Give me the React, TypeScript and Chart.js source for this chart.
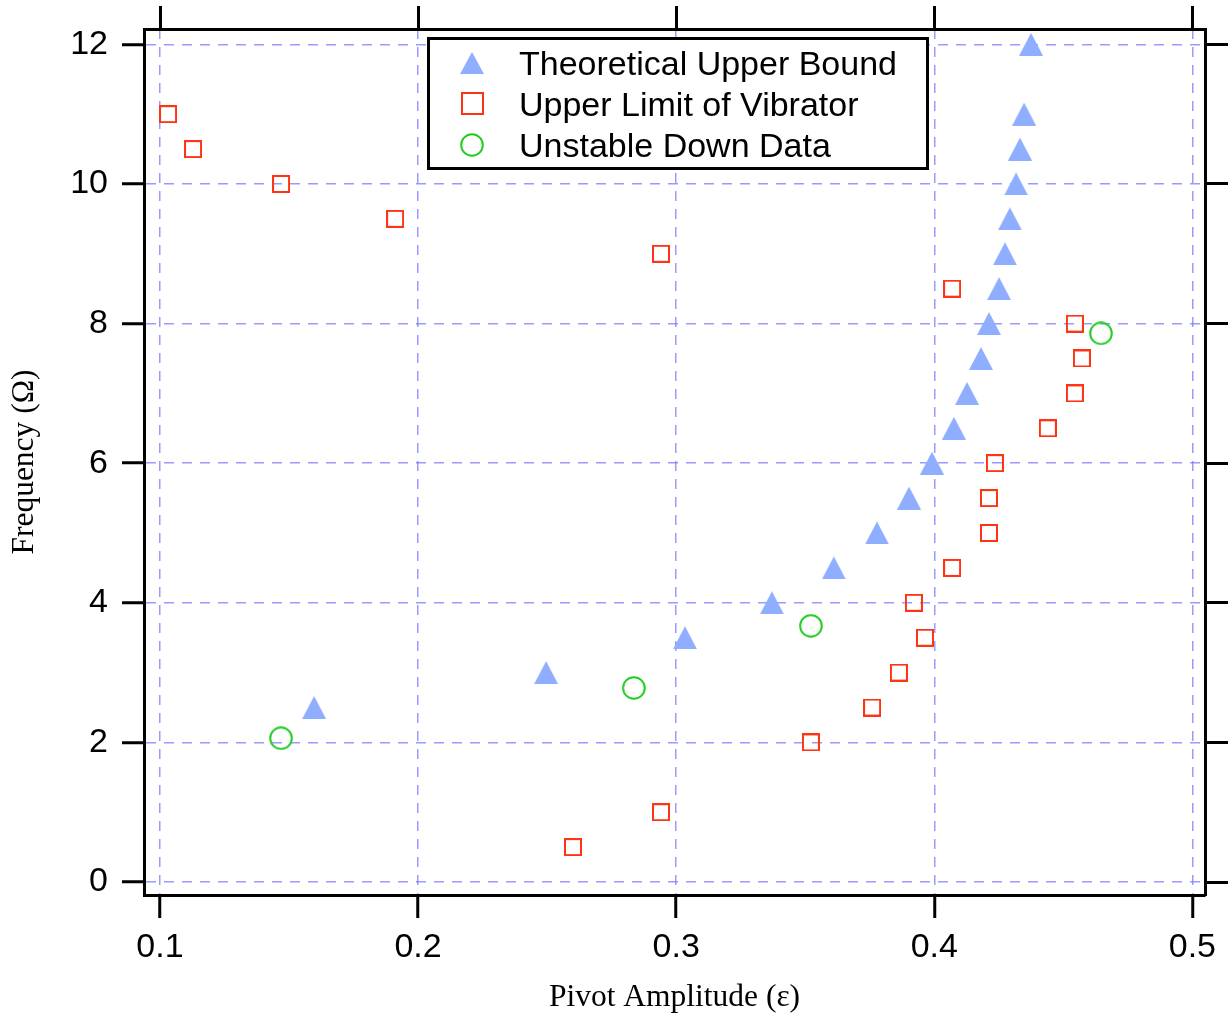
import React, { useEffect, useRef } from 'react';
import { Chart, registerables } from 'chart.js';

Chart.register(...registerables);

// ---- data ----
const seriesNames = ['Theoretical Upper Bound', 'Upper Limit of Vibrator', 'Unstable Down Data'];

const theoX = [0.1597, 0.2496, 0.3034, 0.3371, 0.3611, 0.3778, 0.3902, 0.3991, 0.4076, 0.4127, 0.4181, 0.4212, 0.4251, 0.4274, 0.4293, 0.4317, 0.4332, 0.4348, 0.4375];
const theoY = [2.5, 3.0, 3.5, 4.0, 4.5, 5.0, 5.5, 6.0, 6.5, 7.0, 7.5, 8.0, 8.5, 9.0, 9.5, 10.0, 10.5, 11.0, 12.0];

const vibX = [0.1031, 0.1128, 0.1469, 0.1911, 0.2941, 0.4069, 0.4545, 0.4572, 0.4545, 0.4440, 0.4235, 0.4212, 0.4212, 0.4069, 0.3921, 0.3964, 0.3863, 0.3759, 0.3522, 0.2941, 0.2600];
const vibY = [11.0, 10.5, 10.0, 9.5, 9.0, 8.5, 8.0, 7.5, 7.0, 6.5, 6.0, 5.5, 5.0, 4.5, 4.0, 3.5, 3.0, 2.5, 2.0, 1.0, 0.5];

const downX = [0.1469, 0.2836, 0.3522, 0.4646];
const downY = [2.06, 2.78, 3.67, 7.86];

const xTicks = [0.1, 0.2, 0.3, 0.4, 0.5];
const yTicks = [0, 2, 4, 6, 8, 10, 12];
const xRange = [0.0938, 0.5049];
const yRange = [-0.186, 12.22];

const xTitle = 'Pivot Amplitude (ε)';
const yTitle = 'Frequency (Ω)';

// ---- styles ----
const TRI_COLOR = 'rgb(143,174,255)';
const SQ_COLOR = 'rgb(255,52,20)';
const CIRC_COLOR = 'rgb(34,204,34)';
const GRID_COLOR = 'rgba(120,120,255,0.75)';
const TICK_FONT = { family: '"Liberation Sans", Arial, sans-serif', size: 34 };
const TITLE_FONT = { family: '"Liberation Serif", "Times New Roman", serif', size: 31.5 };

function triangleImg(w: number, h: number) {
  const c = document.createElement('canvas');
  c.width = w; c.height = h;
  const g = c.getContext('2d')!;
  g.fillStyle = TRI_COLOR;
  g.beginPath();
  g.moveTo(w / 2, 0);
  g.lineTo(w, h);
  g.lineTo(0, h);
  g.closePath();
  g.fill();
  return c;
}
function squareImg(s: number) {
  const c = document.createElement('canvas');
  c.width = s; c.height = s;
  const g = c.getContext('2d')!;
  g.strokeStyle = SQ_COLOR;
  g.lineWidth = 2;
  g.strokeRect(1, 1, s - 2, s - 2);
  return c;
}
function circleImg(s: number) {
  const c = document.createElement('canvas');
  c.width = s; c.height = s;
  const g = c.getContext('2d')!;
  g.strokeStyle = CIRC_COLOR;
  g.lineWidth = 2;
  g.beginPath();
  g.arc(s / 2, s / 2, s / 2 - 1.2, 0, Math.PI * 2);
  g.stroke();
  return c;
}

const zip = (xs: number[], ys: number[]) => xs.map((x, i) => ({ x, y: ys[i] }));

const noPad = (s: any) => {
  s.paddingTop = 0; s.paddingBottom = 0; s.paddingLeft = 0; s.paddingRight = 0;
};

export default function App() {
  const ref = useRef<HTMLCanvasElement | null>(null);

  useEffect(() => {
    const canvas = ref.current!;
    const tri = triangleImg(24, 23);
    const sq = squareImg(18);
    const circ = circleImg(24);
    const legendImgs = [triangleImg(24, 22), squareImg(23), circleImg(24)];

    const legendPlugin = {
      id: 'boxLegend',
      afterDraw(chart: any) {
        const ctx = chart.ctx;
        ctx.save();
        ctx.fillStyle = 'white';
        ctx.fillRect(428, 38, 500, 131);
        ctx.lineWidth = 3;
        ctx.strokeStyle = 'black';
        ctx.strokeRect(428.5, 38.5, 499, 130);
        ctx.font = '34px "Liberation Sans", Arial, sans-serif';
        ctx.fillStyle = 'black';
        ctx.textBaseline = 'alphabetic';
        ctx.textAlign = 'left';
        const rows = [63, 103.5, 144.5];
        seriesNames.forEach((name, i) => {
          const img = legendImgs[i];
          ctx.drawImage(img, Math.round(472 - img.width / 2), Math.round(rows[i] - img.height / 2));
          ctx.fillText(name, 519, rows[i] + 12);
        });
        ctx.restore();
      },
    };

    const setTicks = (vals: number[]) => (s: any) => {
      s.ticks = vals.map((v) => ({ value: v }));
    };

    const chart = new Chart(canvas, {
      type: 'scatter',
      data: {
        datasets: [
          { label: seriesNames[0], data: zip(theoX, theoY), pointStyle: tri as any, pointRadius: 12, backgroundColor: TRI_COLOR, borderColor: TRI_COLOR },
          { label: seriesNames[1], data: zip(vibX, vibY), pointStyle: sq as any, pointRadius: 9, backgroundColor: SQ_COLOR, borderColor: SQ_COLOR },
          { label: seriesNames[2], data: zip(downX, downY), pointStyle: circ as any, pointRadius: 12, backgroundColor: CIRC_COLOR, borderColor: CIRC_COLOR },
        ],
      },
      options: {
        responsive: false,
        animation: false,
        devicePixelRatio: 1,
        layout: { padding: 0 },
        plugins: { legend: { display: false }, tooltip: { enabled: false }, title: { display: false } },
        scales: {
          x: {
            type: 'linear', position: 'bottom', min: xRange[0], max: xRange[1],
            afterBuildTicks: setTicks(xTicks),
            afterFit: (s: any) => { s.height = 118; noPad(s); },
            ticks: { font: TICK_FONT, color: 'black', padding: 9, maxRotation: 0, callback: (v: any) => Number(v).toFixed(1) },
            grid: { color: GRID_COLOR, lineWidth: 1.5, tickColor: 'black', tickWidth: 3, tickLength: 23 },
            border: { display: true, color: 'black', width: 3, dash: [10, 8] },
            title: { display: true, text: xTitle, font: TITLE_FONT, color: 'black', padding: { top: 0, bottom: -4 } },
          },
          x2: {
            type: 'linear', position: 'top', min: xRange[0], max: xRange[1],
            afterBuildTicks: setTicks(xTicks),
            afterFit: (s: any) => { s.height = 29; noPad(s); },
            ticks: { display: false },
            grid: { drawOnChartArea: false, color: 'black', tickColor: 'black', tickWidth: 3, tickLength: 23 },
            border: { display: true, color: 'black', width: 3 },
          },
          y: {
            type: 'linear', position: 'left', min: yRange[0], max: yRange[1],
            afterBuildTicks: setTicks(yTicks),
            afterFit: (s: any) => { s.width = 144; noPad(s); },
            ticks: { font: TICK_FONT, color: 'black', padding: 14, callback: (v: any) => String(v) },
            grid: { color: GRID_COLOR, lineWidth: 1.5, tickColor: 'black', tickWidth: 3, tickLength: 22 },
            border: { display: true, color: 'black', width: 3, dash: [10, 8] },
            title: { display: true, text: yTitle, font: TITLE_FONT, color: 'black', padding: { top: 6, bottom: 0 } },
          },
          y2: {
            type: 'linear', position: 'right', min: yRange[0], max: yRange[1],
            afterBuildTicks: setTicks(yTicks),
            afterFit: (s: any) => { s.width = 23; noPad(s); },
            ticks: { display: false },
            grid: { drawOnChartArea: false, color: 'black', tickColor: 'black', tickWidth: 3, tickLength: 23 },
            border: { display: true, color: 'black', width: 3 },
          },
        },
      } as any,
      plugins: [legendPlugin],
    });
    return () => chart.destroy();
  }, []);

  return (
    <div style={{ position: 'fixed', left: 0, top: 0, width: 1228, height: 1013, background: 'white' }}>
      <canvas ref={ref} width={1228} height={1013} style={{ display: 'block', width: 1228, height: 1013 }} />
    </div>
  );
}
